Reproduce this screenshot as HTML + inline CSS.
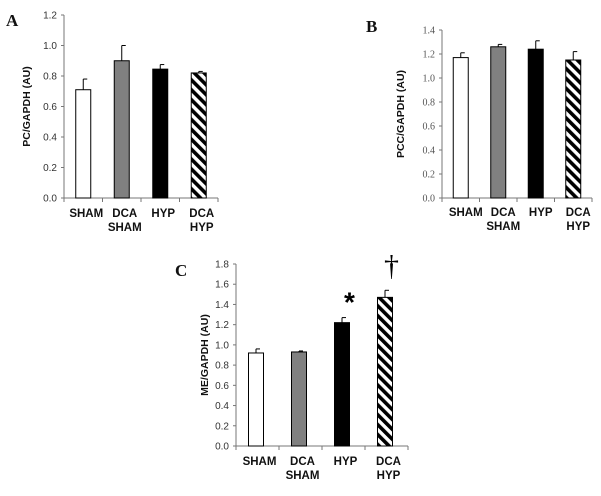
<!DOCTYPE html>
<html><head><meta charset="utf-8"><style>
body{margin:0;background:#fff}
svg{display:block}
.tk{font-family:"Liberation Sans",sans-serif;font-size:10px;fill:#333}
.tks{font-family:"Liberation Serif",serif;font-size:10px;fill:#555}
.cat{font-family:"Liberation Sans",sans-serif;font-size:11.5px;font-weight:bold;fill:#111}
.yt{font-family:"Liberation Sans",sans-serif;font-size:10.5px;font-weight:bold;fill:#111}
.pl{font-family:"Liberation Serif",serif;font-size:17px;font-weight:bold;fill:#111}
</style></head><body>
<svg id="fig" width="601" height="496" viewBox="0 0 601 496" xmlns="http://www.w3.org/2000/svg">
<defs><pattern id="hatch" width="7" height="7" patternUnits="userSpaceOnUse" patternTransform="rotate(-45)"><rect width="7" height="7" fill="#fff"/><rect width="3.6" height="7" fill="#000"/></pattern></defs>
</svg>
<script>
const categories=[["SHAM"],["DCA","SHAM"],["HYP"],["DCA","HYP"]];
const valuesA=[0.71,0.90,0.845,0.82];
const errA=[0.07,0.10,0.03,0.01];
const valuesB=[1.17,1.26,1.24,1.15];
const errB=[0.04,0.02,0.07,0.07];
const valuesC=[0.92,0.93,1.22,1.47];
const errC=[0.04,0.01,0.05,0.07];
const ticksA=["0.0","0.2","0.4","0.6","0.8","1.0","1.2"];
const ticksB=["0.0","0.2","0.4","0.6","0.8","1.0","1.2","1.4"];
const ticksC=["0.0","0.2","0.4","0.6","0.8","1.0","1.2","1.4","1.6","1.8"];
const fills=["#fff","#808080","#000","url(#hatch)"];
const NS="http://www.w3.org/2000/svg";
const svg=document.getElementById('fig');
function mk(tag,attrs,parent,text){const e=document.createElementNS(NS,tag);for(const k in attrs)e.setAttribute(k,attrs[k]);if(text!==undefined)e.textContent=text;(parent||svg).appendChild(e);return e;}
function panel(o){
  const g=mk('g',{});
  
  
  const maxV=parseFloat(o.ticks[o.ticks.length-1]);
  const y=v=>o.y0-(v/maxV)*(o.y0-o.yTop);
  const n=categories.length, w=(o.x1-o.x0)/n;
  const xc=i=>o.x0+w*(i+0.5);
  const ya=mk('line',{x1:o.x0,y1:o.yTop,x2:o.x0,y2:o.y0,stroke:'#777','stroke-width':1},g);
  
  const xa=mk('line',{x1:o.x0,y1:o.y0,x2:o.x1,y2:o.y0,stroke:'#777','stroke-width':1},g);
  
  o.ticks.forEach(t=>{const v=parseFloat(t);
    mk('line',{x1:o.x0-3,y1:y(v),x2:o.x0,y2:y(v),stroke:'#777'},g);
    const tl=mk('text',{x:o.x0-7,y:y(v)+3.5,'text-anchor':'end',class:o.serif?'tks':'tk'},g,t);
    
  });
  for(let i=0;i<=n;i++)mk('line',{x1:o.x0+w*i,y1:o.y0,x2:o.x0+w*i,y2:o.y0+4,stroke:'#777'},g);
  o.vals.forEach((v,i)=>{
    const bx=xc(i)-o.bw/2+(o.off||0);
    const e=mk('line',{x1:bx+o.bw/2,y1:y(v+o.err[i]),x2:bx+o.bw/2,y2:y(v),stroke:'#000','stroke-width':1},g);
    
    mk('line',{x1:bx+o.bw/2,y1:y(v+o.err[i]),x2:bx+o.bw/2+4,y2:y(v+o.err[i]),stroke:'#000'},g);
    const r=mk('rect',{x:bx,y:y(v),width:o.bw,height:o.y0-y(v),fill:fills[i],stroke:'#000','stroke-width':1},g);
    
    
    categories[i].forEach((s,j)=>{
      const c=mk('text',{x:xc(i)+(o.loff||0),y:o.labY+j*14,'text-anchor':'middle',class:'cat'},g,s);
      
    });
  });
  const yt=mk('text',{x:0,y:0,'text-anchor':'middle',class:'yt',transform:`translate(${o.ytx},${(o.y0+o.yTop)/2}) rotate(-90)`},g,o.title);
  
  const pl=mk('text',{x:o.px,y:o.py,class:'pl'},g,o.id);
  
  return {g,y,xc};
}
panel({id:'A',x0:64,x1:218,y0:198,yTop:15,ticks:ticksA,vals:valuesA,err:errA,bw:15,labY:217,loff:3,ytx:30,title:'PC/GAPDH (AU)',px:6,py:26});
panel({id:'B',x0:442,x1:592,y0:198,yTop:30,ticks:ticksB,vals:valuesB,err:errB,bw:15,labY:216,loff:5,ytx:404,title:'PCC/GAPDH (AU)',px:366,py:32,serif:true});
const pc=panel({id:'C',x0:236,x1:408,y0:446,yTop:264,ticks:ticksC,vals:valuesC,err:errC,bw:15,off:-1.5,labY:465,loff:2,ytx:208,title:'ME/GAPDH (AU)',px:175,py:276});
const ast=mk('text',{x:pc.xc(2)+6,y:pc.y(valuesC[2]+errC[2])-6,'text-anchor':'middle','font-family':'Liberation Sans,sans-serif','font-size':'28','font-weight':'bold'},pc.g,'*');

const dg=mk('text',{x:pc.xc(3)+5,y:pc.y(valuesC[3]+errC[3])-15,'text-anchor':'middle','font-family':'Liberation Serif,serif','font-size':'30'},pc.g,'†');

</script>
</body></html>
